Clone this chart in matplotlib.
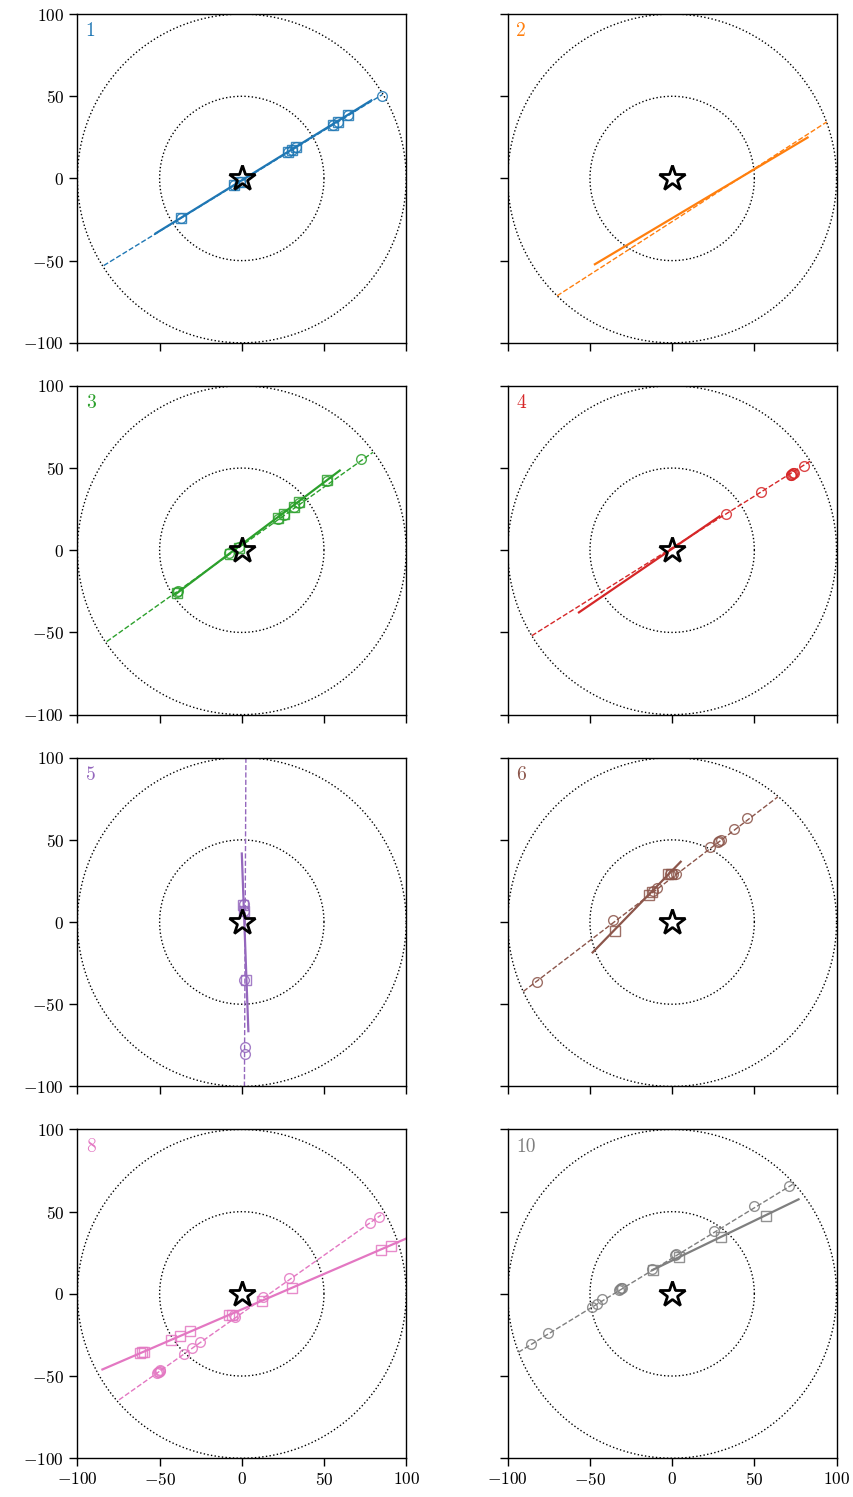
import numpy as np
import matplotlib
matplotlib.use('Agg')
import matplotlib.pyplot as plt

plt.rcParams['font.family'] = 'serif'
plt.rcParams['font.serif'] = ['cmr10', 'DejaVu Serif']
plt.rcParams['mathtext.fontset'] = 'cm'
plt.rcParams['axes.formatter.use_mathtext'] = True

# panel labels and colours
labels = ['1', '2', '3', '4', '5', '6', '8', '10']
colors = ['tab:blue', 'tab:orange', 'tab:green', 'tab:red',
          'tab:purple', 'tab:brown', 'tab:pink', 'tab:gray']

# panel 1
p1_circles = [(-37, -24), (-4.5, -4), (-1, -2), (28, 16), (30.5, 17.5), (33, 19),
              (55.5, 32.5), (58.5, 34.5), (64.5, 38.5), (85.5, 50)]
p1_squares = [(-37, -24), (-4.5, -4), (-1, -2), (28, 16), (30.5, 17.5), (33, 19),
              (55.5, 32.5), (58.5, 34.5), (64.5, 38.5)]
p1_solid = [(-52.5, -33.5), (78.8, 47.5)]
p1_dashed = [(-84, -53), (85.5, 51)]

# panel 2
p2_circles = []
p2_squares = []
p2_solid = [(-47, -52.2), (82.4, 24.9)]
p2_dashed = [(-70, -71.4), (94.1, 34.4)]

# panel 3
p3_circles = [(-39.5, -25.5), (-39, -25), (-8, -1.6), (-2, 2), (21.8, 19.2),
              (25.7, 21.6), (31.9, 26.1), (34.9, 28.9), (52.1, 42), (72.7, 55.5)]
p3_squares = [(-39.5, -26), (-7, -2.5), (-1.5, 1.5), (21.8, 19.5),
              (25.7, 22), (31.9, 26.5), (34.9, 29.5), (52.1, 42.5)]
p3_solid = [(-40.4, -26.8), (59.6, 48.5)]
p3_dashed = [(-82.2, -55.6), (79.8, 59.6)]

# panel 4
p4_circles = [(32.9, 21.8), (54.1, 35.4), (72, 45.6), (72.6, 46), (73.2, 46.4),
              (73.8, 46.8), (74.4, 47.2), (80.4, 51.4)]
p4_squares = []
p4_solid = [(-56.7, -37.8), (28.8, 20.6)]
p4_dashed = [(-85.4, -52), (84, 54.2)]

# panel 5
p5_circles = [(1.5, 11), (1.5, 7), (1.5, -35), (2, -76), (2, -80.5)]
p5_squares = [(0.7, 10.5), (1.3, 6.5), (2.8, -35)]
p5_solid = [(0, 41.7), (4, -66.4)]
p5_dashed = [(2.5, 100), (1.6, -100)]

# panel 6
p6_circles = [(-82.4, -36.3), (-35.9, 1.3), (-11.6, 18.9), (-9.2, 20.9),
              (-1.5, 29.2), (0.5, 29.2), (2.5, 29.2), (23.2, 45.4), (27.8, 48.6),
              (28.8, 49.4), (29.8, 50.2), (37.9, 56.9), (45.6, 63)]
p6_squares = [(-34.9, -5.2), (-14.3, 16.5), (-12.2, 18.5), (-2.5, 29.2), (-0.5, 29.2)]
p6_solid = [(-48.4, -18.5), (5.2, 36.7)]
p6_dashed = [(-90.5, -42.2), (64.2, 76.1)]

# panel 8
p8_circles = [(-51.5, -48.2), (-51, -47.8), (-50.5, -47.4), (-50, -47), (-49.5, -46.6),
              (-35.4, -36.3), (-30.3, -32.7), (-25.3, -29.3), (-5, -12.8), (-4, -13.8),
              (12.7, -1.9), (28.9, 9.6), (77.8, 43.1), (83.4, 47)]
p8_squares = [(-62, -36.1), (-60.6, -35.6), (-59.2, -35.5), (-42.8, -28.2),
              (-37.4, -25.4), (-31.3, -22.7), (-7.5, -12.6), (-6.1, -12.8),
              (12.1, -4.5), (30.7, 3.5), (84.8, 26.8), (90.5, 28.9)]
p8_solid = [(-84.8, -46), (102, 34.5)]
p8_dashed = [(-74.7, -64.5), (84.8, 48)]

# panel 10
p10_circles = [(-86, -30.4), (-75.3, -24), (-49, -8), (-46, -6.2), (-42.4, -3.2),
               (-32.6, 2.6), (-32, 3), (-31.4, 3.4), (-30.8, 3.8), (-12.2, 15.3),
               (1.6, 23.4), (2.6, 24), (25.4, 38.3), (49.7, 53.3), (70.9, 65.6)]
p10_squares = [(-11.6, 14.7), (4.1, 22.2), (29.8, 34.7), (57.1, 47.5)]
p10_solid = [(-12, 14.5), (76.9, 57.5)]
p10_dashed = [(-93.5, -35.5), (73.3, 66.6)]

circles_all = [p1_circles, p2_circles, p3_circles, p4_circles,
               p5_circles, p6_circles, p8_circles, p10_circles]
squares_all = [p1_squares, p2_squares, p3_squares, p4_squares,
               p5_squares, p6_squares, p8_squares, p10_squares]
solid_all = [p1_solid, p2_solid, p3_solid, p4_solid,
             p5_solid, p6_solid, p8_solid, p10_solid]
dashed_all = [p1_dashed, p2_dashed, p3_dashed, p4_dashed,
              p5_dashed, p6_dashed, p8_dashed, p10_dashed]

ring_radii = [50, 100]
ticks = [-100, -50, 0, 50, 100]

fig, axes = plt.subplots(4, 2, figsize=(8.54, 14.97), dpi=100,
                         sharex=True, sharey=True)
fig.subplots_adjust(left=0.0902, right=0.980, top=0.9906, bottom=0.0259,
                    wspace=0.306, hspace=0.131)

theta = np.linspace(0, 2 * np.pi, 400)
for i, ax in enumerate(axes.flat):
    c = colors[i]
    # dotted reference rings
    for r in ring_radii:
        ax.plot(r * np.cos(theta), r * np.sin(theta), ls=':', color='k', lw=1.0)
    d = np.array(dashed_all[i])
    ax.plot(d[:, 0], d[:, 1], ls='--', color=c, lw=1.0)
    s = np.array(solid_all[i])
    ax.plot(s[:, 0], s[:, 1], ls='-', color=c, lw=1.6)
    if len(circles_all[i]):
        cc = np.array(circles_all[i])
        ax.plot(cc[:, 0], cc[:, 1], ls='none', marker='o', ms=7, mfc='none',
                mec=c, mew=1.0, alpha=0.85)
    if len(squares_all[i]):
        sq = np.array(squares_all[i])
        ax.plot(sq[:, 0], sq[:, 1], ls='none', marker='s', ms=7, mfc='none',
                mec=c, mew=1.0, alpha=0.85)
    ax.plot([0], [0], marker='*', ms=19, mfc='none', mec='k', mew=2, ls='none')
    ax.text(0.025, 0.975, labels[i], transform=ax.transAxes, color=c,
            fontsize=14, ha='left', va='top')
    ax.set_xlim(-100, 100)
    ax.set_ylim(-100, 100)
    ax.set_aspect('equal')
    ax.set_xticks(ticks)
    ax.set_yticks(ticks)
    ax.tick_params(labelsize=12.5, length=6, width=1)
    for sp in ax.spines.values():
        sp.set_linewidth(1.0)

fig.savefig('out.png', dpi=100)
